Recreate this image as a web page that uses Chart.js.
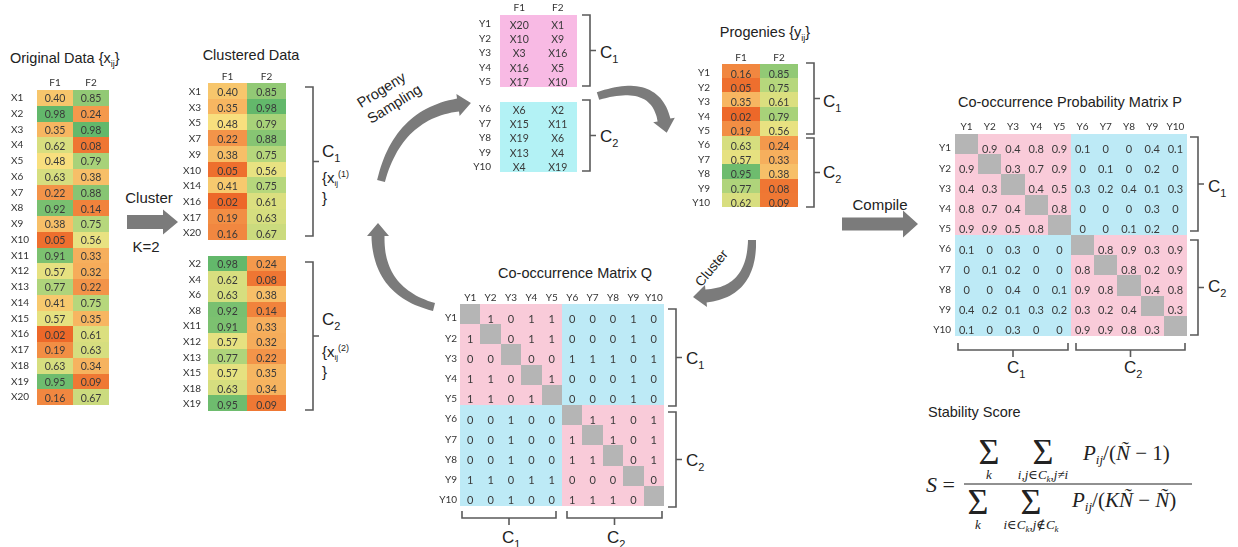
<!DOCTYPE html>
<html>
<head>
<meta charset="utf-8">
<script src="https://cdn.jsdelivr.net/npm/chart.js@4.4.1/dist/chart.umd.min.js"></script>
<style>
  html, body { margin: 0; padding: 0; background: #fff; }
  #stage { position: relative; width: 1238px; height: 547px; overflow: hidden; background: #fff;
           font-family: "Liberation Sans", Arial, sans-serif; }
  #stage canvas { position: absolute; }
  #deco { position: absolute; left: 0; top: 0; pointer-events: none; }
</style>
</head>
<body>
<div id="stage">
  <svg id="deco" width="1238" height="547" xmlns="http://www.w3.org/2000/svg"></svg>
</div>
<script>
// ---------- data ----------
const features = ['F1', 'F2'];

const sampleIds = ['X1','X2','X3','X4','X5','X6','X7','X8','X9','X10',
                   'X11','X12','X13','X14','X15','X16','X17','X18','X19','X20'];
const origF1 = [0.40,0.98,0.35,0.62,0.48,0.63,0.22,0.92,0.38,0.05,
                0.91,0.57,0.77,0.41,0.57,0.02,0.19,0.63,0.95,0.16];
const origF2 = [0.85,0.24,0.98,0.08,0.79,0.38,0.88,0.14,0.75,0.56,
                0.33,0.32,0.22,0.75,0.35,0.61,0.63,0.34,0.09,0.67];

const clusterOneIds = ['X1','X3','X5','X7','X9','X10','X14','X16','X17','X20'];
const clusterOneF1  = [0.40,0.35,0.48,0.22,0.38,0.05,0.41,0.02,0.19,0.16];
const clusterOneF2  = [0.85,0.98,0.79,0.88,0.75,0.56,0.75,0.61,0.63,0.67];

const clusterTwoIds = ['X2','X4','X6','X8','X11','X12','X13','X15','X18','X19'];
const clusterTwoF1  = [0.98,0.62,0.63,0.92,0.91,0.57,0.77,0.57,0.63,0.95];
const clusterTwoF2  = [0.24,0.08,0.38,0.14,0.33,0.32,0.22,0.35,0.34,0.09];

const progenyIds   = ['Y1','Y2','Y3','Y4','Y5','Y6','Y7','Y8','Y9','Y10'];
const drawnF1      = ['X20','X10','X3','X16','X17','X6','X15','X19','X13','X4'];
const drawnF2      = ['X1','X9','X16','X5','X10','X2','X11','X6','X4','X19'];
const progenyF1    = [0.16,0.05,0.35,0.02,0.19,0.63,0.57,0.95,0.77,0.62];
const progenyF2    = [0.85,0.75,0.61,0.79,0.56,0.24,0.33,0.38,0.08,0.09];
const progenyGroup = [1,1,1,1,1,2,2,2,2,2];

// co-occurrence counts (null on the diagonal)
const coMatrixQ = [
  [null,1,0,1,1,0,0,0,1,0],
  [1,null,0,1,1,0,0,0,1,0],
  [0,0,null,0,0,1,1,1,0,1],
  [1,1,0,null,1,0,0,0,1,0],
  [1,1,0,1,null,0,0,0,1,0],
  [0,0,1,0,0,null,1,1,0,1],
  [0,0,1,0,0,1,null,1,0,1],
  [0,0,1,0,0,1,1,null,0,1],
  [1,1,0,1,1,0,0,0,null,0],
  [0,0,1,0,0,1,1,1,0,null]
];

// co-occurrence probabilities (null on the diagonal)
const probMatrixP = [
  [null,0.9,0.4,0.8,0.9,0.1,0,0,0.4,0.1],
  [0.9,null,0.3,0.7,0.9,0,0.1,0,0.2,0],
  [0.4,0.3,null,0.4,0.5,0.3,0.2,0.4,0.1,0.3],
  [0.8,0.7,0.4,null,0.8,0,0,0,0.3,0],
  [0.9,0.9,0.5,0.8,null,0,0,0.1,0.2,0],
  [0.1,0,0.3,0,0,null,0.8,0.9,0.3,0.9],
  [0,0.1,0.2,0,0,0.8,null,0.8,0.2,0.9],
  [0,0,0.4,0,0.1,0.9,0.8,null,0.4,0.8],
  [0.4,0.2,0.1,0.3,0.2,0.3,0.2,0.4,null,0.3],
  [0.1,0,0.3,0,0,0.9,0.9,0.8,0.3,null]
];

// ---------- styling helpers ----------
const stage = document.getElementById('stage');
const CELL_TEXT = '#3a3a3a';
const LABEL_TEXT = '#333';
const TABLE_FONT = 'Lato, "Open Sans", sans-serif';

// red -> yellow -> green colour scale for feature values
const heatStops = [
  [0.00, [236, 100, 38]],
  [0.30, [246, 166, 86]],
  [0.50, [248, 229, 130]],
  [0.75, [182, 215, 124]],
  [1.00, [92, 181, 106]]
];
function heat(v) {
  for (let k = 1; k < heatStops.length; k++) {
    const [t1, c1] = heatStops[k], [t0, c0] = heatStops[k - 1];
    if (v <= t1) {
      const f = (v - t0) / (t1 - t0);
      const c = c0.map((a, i) => Math.round(a + (c1[i] - a) * f));
      return `rgb(${c[0]},${c[1]},${c[2]})`;
    }
  }
  return 'rgb(92,181,106)';
}
const SAME_PINK = '#f9cbd9', CROSS_CYAN = '#bdeaf6', DIAG_GRAY = '#b5b5b5';
const SAMPLE_PINK = '#f8bae4', SAMPLE_CYAN = '#b3f2f5';

// ---------- grid chart built on two category axes ----------
function gridChart(s) {
  const nR = s.rows.length, nC = s.cols.length;
  const W = Math.round(s.labelW + nC * s.cw), H = Math.round(s.headH + nR * s.ch + 4);
  const cv = document.createElement('canvas');
  cv.width = W; cv.height = H;
  cv.style.width = W + 'px'; cv.style.height = H + 'px';
  cv.style.left = (s.left - s.labelW) + 'px';
  cv.style.top = (s.top - s.headH) + 'px';
  stage.appendChild(cv);

  const points = [];
  s.rows.forEach((r, i) => s.cols.forEach((c, j) => points.push({ x: c, y: r, i, j })));
  const cellDy = s.cellDy || 0;

  const cellPlugin = {
    id: 'cells',
    beforeDatasetsDraw(chart) {
      const { ctx, chartArea: a } = chart;
      const meta = chart.getDatasetMeta(0);
      const w = (a.right - a.left) / nC, h = (a.bottom - a.top) / nR;
      ctx.save();
      meta.data.forEach((el, k) => {
        const p = points[k];
        const x0 = Math.round(el.x - w / 2), x1 = Math.round(el.x + w / 2);
        const y0 = Math.round(el.y - h / 2 + cellDy), y1 = Math.round(el.y + h / 2 + cellDy);
        ctx.fillStyle = s.fill(p.i, p.j);
        ctx.fillRect(x0, y0, x1 - x0, y1 - y0);
      });
      ctx.fillStyle = CELL_TEXT;
      ctx.font = `${s.cellFont}px ${TABLE_FONT}`;
      ctx.textAlign = 'center';
      ctx.textBaseline = 'middle';
      meta.data.forEach((el, k) => {
        const p = points[k];
        const t = s.text(p.i, p.j);
        if (t !== '') ctx.fillText(t, el.x, el.y + 1);
      });
      ctx.restore();
    }
  };

  // the axes keep a fixed size and add no extra padding around the cell area
  const noPad = (axis) => { axis.paddingTop = 0; axis.paddingBottom = 0; axis.paddingLeft = 0; axis.paddingRight = 0; };

  return new Chart(cv, {
    type: 'scatter',
    data: { datasets: [{ data: points, pointRadius: 0, pointHoverRadius: 0 }] },
    options: {
      responsive: false,
      animation: false,
      devicePixelRatio: 1,
      events: [],
      layout: { padding: { bottom: 4 } },
      plugins: { legend: { display: false }, tooltip: { enabled: false } },
      scales: {
        x: {
          type: 'category', labels: s.cols, position: 'top', offset: true,
          display: s.headH > 0,
          grid: { display: false, drawTicks: false }, border: { display: false },
          ticks: { autoSkip: false, maxRotation: 0, padding: s.headPad,
                   color: LABEL_TEXT, font: { family: TABLE_FONT, size: s.headFont } },
          afterFit(axis) { axis.height = s.headH; noPad(axis); }
        },
        y: {
          type: 'category', labels: s.rows, offset: true,
          grid: { display: false, drawTicks: false }, border: { display: false },
          ticks: { autoSkip: false, padding: s.rowPad, crossAlign: s.rowAlign,
                   color: LABEL_TEXT, font: { family: TABLE_FONT, size: s.rowFont } },
          afterFit(axis) { axis.width = s.labelW; noPad(axis); }
        }
      }
    },
    plugins: [cellPlugin]
  });
}

const fmt2 = v => v.toFixed(2);
const fmtP = v => (v === null ? '' : (v === 0 ? '0' : String(v)));
const fmtQ = v => (v === null ? '' : String(v));
const blockFill = (m) => (i, j) => m[i][j] === null ? DIAG_GRAY
  : (progenyGroup[i] === progenyGroup[j] ? SAME_PINK : CROSS_CYAN);

// original data
gridChart({ left: 37, top: 90, cw: 36, ch: 15.75, rows: sampleIds, cols: features,
  labelW: 26, headH: 16, headPad: 1, rowPad: 0, rowAlign: 'far',
  headFont: 10, rowFont: 10, cellFont: 10.5,
  fill: (i, j) => heat(j === 0 ? origF1[i] : origF2[i]),
  text: (i, j) => fmt2(j === 0 ? origF1[i] : origF2[i]) });

// clustered data, cluster 1 and cluster 2
gridChart({ left: 208, top: 84, cw: 39, ch: 15.7, rows: clusterOneIds, cols: features,
  labelW: 30, headH: 15, headPad: 1, rowPad: 7, rowAlign: 'near', cellDy: -1,
  headFont: 10, rowFont: 10, cellFont: 10.5,
  fill: (i, j) => heat(j === 0 ? clusterOneF1[i] : clusterOneF2[i]),
  text: (i, j) => fmt2(j === 0 ? clusterOneF1[i] : clusterOneF2[i]) });
gridChart({ left: 208, top: 256, cw: 39, ch: 15.6, rows: clusterTwoIds, cols: features,
  labelW: 30, headH: 0, headPad: 0, rowPad: 7, rowAlign: 'near', cellDy: -1,
  headFont: 10, rowFont: 10, cellFont: 10.5,
  fill: (i, j) => heat(j === 0 ? clusterTwoF1[i] : clusterTwoF2[i]),
  text: (i, j) => fmt2(j === 0 ? clusterTwoF1[i] : clusterTwoF2[i]) });

// progeny sampling tables (drawn sample ids)
gridChart({ left: 500, top: 17, cw: 38.5, ch: 14.3, rows: progenyIds.slice(0, 5), cols: features,
  labelW: 26, headH: 16, headPad: 3, rowPad: 9, rowAlign: 'near', cellDy: -2.5,
  headFont: 10, rowFont: 10, cellFont: 10.5,
  fill: () => SAMPLE_PINK,
  text: (i, j) => (j === 0 ? drawnF1 : drawnF2)[i] });
gridChart({ left: 500, top: 101.5, cw: 38.5, ch: 14.3, rows: progenyIds.slice(5), cols: features,
  labelW: 28, headH: 0, headPad: 0, rowPad: 9, rowAlign: 'near', cellDy: -2,
  headFont: 10, rowFont: 10, cellFont: 10.5,
  fill: () => SAMPLE_CYAN,
  text: (i, j) => (j === 0 ? drawnF1 : drawnF2)[i + 5] });

// progenies
gridChart({ left: 722, top: 65.5, cw: 38, ch: 14.4, rows: progenyIds, cols: features,
  labelW: 36, headH: 16, headPad: 2, rowPad: 12, rowAlign: 'near', cellDy: -2.5,
  headFont: 10, rowFont: 10, cellFont: 10.5,
  fill: (i, j) => heat(j === 0 ? progenyF1[i] : progenyF2[i]),
  text: (i, j) => fmt2(j === 0 ? progenyF1[i] : progenyF2[i]) });

// co-occurrence matrix Q
gridChart({ left: 460, top: 308, cw: 20.4, ch: 20.2, rows: progenyIds, cols: progenyIds,
  labelW: 24, headH: 18, headPad: 4, rowPad: 3, rowAlign: 'near', cellDy: -4,
  headFont: 10, rowFont: 10, cellFont: 11,
  fill: blockFill(coMatrixQ),
  text: (i, j) => fmtQ(coMatrixQ[i][j]) });

// co-occurrence probability matrix P
gridChart({ left: 955, top: 138, cw: 23.2, ch: 20.2, rows: progenyIds, cols: progenyIds,
  labelW: 24, headH: 18, headPad: 5, rowPad: 4, rowAlign: 'near', cellDy: -4,
  headFont: 10, rowFont: 10, cellFont: 11,
  fill: blockFill(probMatrixP),
  text: (i, j) => fmtP(probMatrixP[i][j]) });

// ---------- annotations: titles, brackets, arrows, formula ----------
let deco = '';
const INK = '#222', BR = '#5a5a5a', ARROW = '#7b7b7b';
const SANS = "'Liberation Sans', Arial, sans-serif";
const SERIF = "'Liberation Serif', 'DejaVu Serif', serif";

function label(x, y, body, opt = {}) {
  deco += `<text x="${x}" y="${y}" font-family="${opt.family || SANS}" font-size="${opt.size || 14}" ` +
          `fill="${opt.fill || INK}" text-anchor="${opt.anchor || 'start'}"` +
          (opt.rotate !== undefined ? ` transform="rotate(${opt.rotate} ${x} ${y})"` : '') +
          (opt.italic ? ' font-style="italic"' : '') + `>${body}</text>`;
}
const sub = (t, size = 10, dy = 4) => `<tspan font-size="${size}" dy="${dy}">${t}</tspan>`;
const back = (t, dy, size) => `<tspan dy="${dy}"${size ? ` font-size="${size}"` : ''}>${t}</tspan>`;
const cluster = (x, y, n) => label(x, y, 'C' + sub(n, 11, 5), { size: 17 });

function rBracket(x, y0, y1, cap = 8, tick = 6) {
  const m = (y0 + y1) / 2;
  deco += `<path d="M${x - cap} ${y0}H${x}V${y1}H${x - cap}M${x} ${m}H${x + tick}" fill="none" stroke="${BR}" stroke-width="1.6"/>`;
}
function bBracket(x0, x1, y, cap = 7, tick = 7) {
  const m = (x0 + x1) / 2;
  deco += `<path d="M${x0} ${y - cap}V${y}H${x1}V${y - cap}M${m} ${y}V${y + tick}" fill="none" stroke="${BR}" stroke-width="1.6"/>`;
}
function straightArrow(x0, x1, yc, bodyH, headL, headH) {
  const xb = x1 - headL;
  deco += `<path d="M${x0} ${yc - bodyH / 2}H${xb}V${yc - headH / 2}L${x1} ${yc}L${xb} ${yc + headH / 2}V${yc + bodyH / 2}H${x0}Z" fill="${ARROW}"/>`;
}
// thick curved arrow following a quadratic curve, widening toward the head
function curvedArrow(p0, c, p1, w0, w1, headL, headW) {
  const N = 30, left = [], right = [];
  let tx = 0, ty = 0;
  for (let k = 0; k <= N; k++) {
    const t = k / N, u = 1 - t;
    const x = u * u * p0[0] + 2 * u * t * c[0] + t * t * p1[0];
    const y = u * u * p0[1] + 2 * u * t * c[1] + t * t * p1[1];
    let dx = 2 * u * (c[0] - p0[0]) + 2 * t * (p1[0] - c[0]);
    let dy = 2 * u * (c[1] - p0[1]) + 2 * t * (p1[1] - c[1]);
    const len = Math.hypot(dx, dy); dx /= len; dy /= len;
    const w = (w0 + (w1 - w0) * t) / 2;
    left.push([x - dy * w, y + dx * w]);
    right.push([x + dy * w, y - dx * w]);
    tx = dx; ty = dy;
  }
  const hl = [p1[0] - ty * headW / 2, p1[1] + tx * headW / 2];
  const hr = [p1[0] + ty * headW / 2, p1[1] - tx * headW / 2];
  const tip = [p1[0] + tx * headL, p1[1] + ty * headL];
  const pts = [...left, hl, tip, hr, ...right.reverse()];
  deco += `<path d="M${pts.map(p => p[0].toFixed(1) + ' ' + p[1].toFixed(1)).join('L')}Z" fill="${ARROW}"/>`;
}

// titles
label(10, 63, 'Original Data {x' + sub('ij', 9, 4) + back('}', -4), { size: 14.5 });
label(251, 60, 'Clustered Data', { size: 14.5, anchor: 'middle' });
label(765, 37, 'Progenies {y' + sub('ij', 9, 4) + back('}', -4), { size: 14.5, anchor: 'middle' });
label(575, 278, 'Co-occurrence Matrix Q', { size: 14.5, anchor: 'middle' });
label(1070, 107, 'Co-occurrence Probability Matrix P', { size: 14.5, anchor: 'middle' });
label(928, 417, 'Stability Score', { size: 14.5 });

// clustering step
label(149, 203, 'Cluster', { size: 15, anchor: 'middle' });
label(146, 252, 'K=2', { size: 15, anchor: 'middle' });
straightArrow(127, 178, 222, 14, 15, 25);

// clustered data brackets
rBracket(313, 87, 236);
cluster(322, 157, '1');
label(322, 183, '{x' + sub('ij', 8, 3) + back('(1)', -9, 9), { size: 15 });
label(322, 203, '}', { size: 15 });
rBracket(313, 262, 410);
cluster(322, 325, '2');
label(322, 357, '{x' + sub('ij', 8, 3) + back('(2)', -9, 9), { size: 15 });
label(322, 377, '}', { size: 15 });

// progeny sampling
label(384, 94, 'Progeny', { size: 14.5, anchor: 'middle', rotate: -32 });
label(397, 108, 'Sampling', { size: 14.5, anchor: 'middle', rotate: -32 });
curvedArrow([381, 181], [398, 114], [458, 105], 8, 13, 13, 22);
curvedArrow([434, 307], [378, 292], [378, 236], 8, 13, 13, 22);
rBracket(590, 15, 86);
cluster(600, 58, '1');
rBracket(590, 100, 171);
cluster(600, 142, '2');

// progenies
curvedArrow([598, 96], [655, 78], [664, 120], 8, 13, 13, 22);
rBracket(814, 63, 134);
cluster(823, 107, '1');
rBracket(814, 138, 207);
cluster(823, 178, '2');

// clustering of progenies
label(715, 271, 'Cluster', { size: 13.5, anchor: 'middle', rotate: -50 });
curvedArrow([752, 240], [752, 292], [706, 296], 8, 13, 13, 22);

// co-occurrence matrix Q brackets
rBracket(676, 309, 406);
cluster(686, 364, '1');
rBracket(676, 412, 507);
cluster(686, 466, '2');
bBracket(462, 556, 518);
cluster(502, 543, '1');
bBracket(567, 662, 518);
cluster(607, 543, '2');

// compile step
label(880, 210, 'Compile', { size: 15, anchor: 'middle' });
straightArrow(842, 918, 224, 13, 15, 27);

// probability matrix P brackets
rBracket(1198, 137, 231);
cluster(1208, 192, '1');
rBracket(1198, 240, 335);
cluster(1208, 292, '2');
bBracket(958, 1068, 350);
cluster(1007, 373, '1');
bBracket(1076, 1185, 350);
cluster(1124, 373, '2');

// stability score formula
const it = t => `<tspan font-style="italic">${t}</tspan>`;
label(926, 492, it('S') + ' =', { family: SERIF, size: 22 });
deco += `<line x1="964" y1="484" x2="1192" y2="484" stroke="#222" stroke-width="1"/>`;
// numerator
label(989, 464, 'Σ', { family: SERIF, size: 36, anchor: 'middle' });
label(1043, 464, 'Σ', { family: SERIF, size: 36, anchor: 'middle' });
label(989, 479, it('k'), { family: SERIF, size: 13, anchor: 'middle' });
label(1043, 479, it('i,j') + '∈' + it('C') + sub(it('k'), 9, 3) + back(',', -3) + it('j') + '≠' + it('i'),
      { family: SERIF, size: 13, anchor: 'middle' });
label(1083, 460, it('P') + sub(it('ij'), 13, 4) + back('/(', -4) + it('Ñ') + ' − 1)', { family: SERIF, size: 21 });
// denominator
label(978, 514, 'Σ', { family: SERIF, size: 36, anchor: 'middle' });
label(1031, 514, 'Σ', { family: SERIF, size: 36, anchor: 'middle' });
label(978, 529, it('k'), { family: SERIF, size: 13, anchor: 'middle' });
label(1031, 529, it('i') + '∈' + it('C') + sub(it('k'), 9, 3) + back(',', -3) + it('j') + '∉' + it('C') + sub(it('k'), 9, 3),
      { family: SERIF, size: 13, anchor: 'middle' });
label(1072, 507, it('P') + sub(it('ij'), 13, 4) + back('/(', -4) + it('KÑ') + ' − ' + it('Ñ') + ')', { family: SERIF, size: 21 });

document.getElementById('deco').innerHTML = deco;
</script>
</body>
</html>
